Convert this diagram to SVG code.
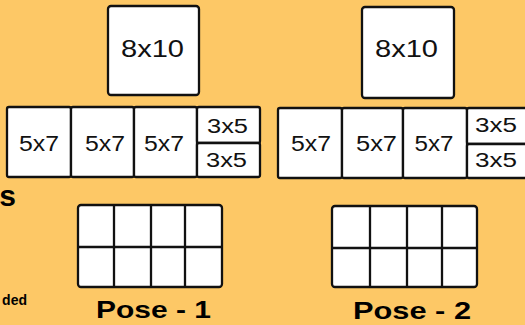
<svg xmlns="http://www.w3.org/2000/svg" width="525" height="325" viewBox="0 0 525 325">
<style>
.bx{fill:#ffffff;stroke:#111111;stroke-width:2.3;stroke-linejoin:round}
.ln{stroke:#111111;stroke-width:2.3;fill:none}
.t{font-family:"Liberation Sans",Arial,sans-serif;fill:#111111;text-anchor:middle}
.big{font-size:24px}
.mid{font-size:22px}
.sm{font-size:20px}
.lbl{font-family:"Liberation Sans",Arial,sans-serif;font-weight:bold;fill:#000000;font-size:24px;text-anchor:middle}
</style>
<rect x="0" y="0" width="525" height="325" fill="#FDC866"/>
<g id="cut-text">
<text x="16" y="206" font-family="Liberation Sans, Arial, sans-serif" font-weight="bold" font-size="30" text-anchor="end" fill="#000">s</text>
<text x="27" y="305" font-family="Liberation Sans, Arial, sans-serif" font-weight="bold" font-size="14" text-anchor="end" fill="#000">ded</text>
</g>
<g id="pose1-8x10">
<rect class="bx" x="108" y="6" width="91" height="89" rx="3"/>
<text class="t big" x="152.5" y="57" textLength="63" lengthAdjust="spacingAndGlyphs">8x10</text>
</g>
<g id="pose1-row">
<rect class="bx" x="7" y="107" width="64" height="70" rx="2"/>
<rect class="bx" x="71" y="107" width="63" height="70" rx="2"/>
<rect class="bx" x="134" y="107" width="63" height="70" rx="2"/>
<rect class="bx" x="197" y="107" width="63" height="36" rx="2"/>
<rect class="bx" x="197" y="143" width="63" height="34" rx="2"/>
<text class="t mid" x="39" y="151" textLength="40" lengthAdjust="spacingAndGlyphs">5x7</text>
<text class="t mid" x="105" y="151" textLength="40" lengthAdjust="spacingAndGlyphs">5x7</text>
<text class="t mid" x="164" y="151" textLength="40" lengthAdjust="spacingAndGlyphs">5x7</text>
<text class="t sm" x="227.5" y="133" textLength="41" lengthAdjust="spacingAndGlyphs">3x5</text>
<text class="t sm" x="226.5" y="167" textLength="41" lengthAdjust="spacingAndGlyphs">3x5</text>
</g>
<g id="pose1-grid">
<rect class="bx" x="78" y="205" width="144" height="82" rx="3"/>
<line class="ln" x1="114" y1="205" x2="114" y2="287"/>
<line class="ln" x1="151" y1="205" x2="151" y2="287"/>
<line class="ln" x1="185" y1="205" x2="185" y2="287"/>
<line class="ln" x1="78" y1="247" x2="222" y2="247"/>
<text class="lbl" x="153.5" y="318" textLength="115" lengthAdjust="spacingAndGlyphs">Pose - 1</text>
</g>
<g id="pose2-8x10">
<rect class="bx" x="362" y="7" width="92" height="91" rx="3"/>
<text class="t big" x="406.5" y="57" textLength="63" lengthAdjust="spacingAndGlyphs">8x10</text>
</g>
<g id="pose2-row">
<rect class="bx" x="278" y="108" width="64" height="70" rx="2"/>
<rect class="bx" x="342" y="108" width="61" height="70" rx="2"/>
<rect class="bx" x="403" y="108" width="64" height="70" rx="2"/>
<rect class="bx" x="467" y="108" width="63" height="36" rx="2"/>
<rect class="bx" x="467" y="144" width="63" height="34" rx="2"/>
<text class="t mid" x="311" y="151" textLength="40" lengthAdjust="spacingAndGlyphs">5x7</text>
<text class="t mid" x="376.5" y="151" textLength="41" lengthAdjust="spacingAndGlyphs">5x7</text>
<text class="t mid" x="434" y="151" textLength="39" lengthAdjust="spacingAndGlyphs">5x7</text>
<text class="t sm" x="496" y="132" textLength="42" lengthAdjust="spacingAndGlyphs">3x5</text>
<text class="t sm" x="496" y="167" textLength="42" lengthAdjust="spacingAndGlyphs">3x5</text>
</g>
<g id="pose2-grid">
<rect class="bx" x="332" y="206" width="145" height="81" rx="3"/>
<line class="ln" x1="370" y1="206" x2="370" y2="287"/>
<line class="ln" x1="407" y1="206" x2="407" y2="287"/>
<line class="ln" x1="442" y1="206" x2="442" y2="287"/>
<line class="ln" x1="332" y1="248" x2="477" y2="248"/>
<text class="lbl" x="412" y="319" textLength="118" lengthAdjust="spacingAndGlyphs">Pose - 2</text>
</g>
<g id="connectors"/>
</svg>
